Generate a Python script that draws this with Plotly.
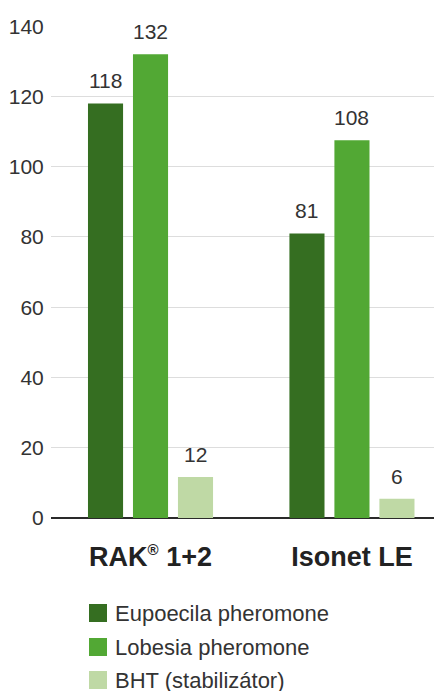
import plotly.graph_objects as go

categories = ["RAK<sup><span style='font-size:15px'>®</span></sup> 1+2", "Isonet LE"]
series_names = ["Eupoecila pheromone", "Lobesia pheromone", "BHT (stabilizátor)"]
eupoecila = [118, 81]
lobesia = [132, 107.5]
bht = [11.7, 5.5]
series_values = [eupoecila, lobesia, bht]
colors = ["#356e21", "#52a834", "#bfd9a5"]
y_ticks = [0, 20, 40, 60, 80, 100, 120, 140]

FONT = "Liberation Sans, Arial, sans-serif"
TXT = "#333333"

# page body has an 8px margin
W, H = 434, 683
ML, MT, MB = 43, 18, 173
plot_h = H - MT - MB
plot_w = W - ML
x0_abs, y0_abs = 8 + ML, 8 + MT + plot_h  # absolute pixel of plot left / y=0

fig = go.Figure()
for name, vals, col in zip(series_names, series_values, colors):
    fig.add_trace(go.Bar(
        x=list(range(len(categories))), y=vals, name=name,
        marker=dict(color=col, line=dict(width=0)),
        showlegend=False, hoverinfo="skip",
    ))

bargap = 0.33
slot = (1 - bargap) / len(series_names)
annotations = []
for s, vals in enumerate(series_values):
    off = (s - (len(series_names) - 1) / 2) * slot
    for i, v in enumerate(vals):
        annotations.append(dict(
            x=i + off, y=v, xref="x", yref="y", text=f"{v:.0f}",
            showarrow=False, yanchor="bottom", yshift=9,
            font=dict(family=FONT, size=21, color=TXT),
        ))

# legend drawn below the plot
shapes = []
row_px = [613, 647, 680]
for name, col, py in zip(series_names, colors, row_px):
    yc = -(py - y0_abs) / plot_h
    h = 9 / plot_h
    shapes.append(dict(type="rect", xref="paper", yref="paper",
                       x0=(89 - x0_abs) / plot_w, x1=(107 - x0_abs) / plot_w,
                       y0=yc - h, y1=yc + h, fillcolor=col, line=dict(width=0)))
    annotations.append(dict(x=(114 - x0_abs) / plot_w, y=yc, xref="paper", yref="paper",
                            text=name, showarrow=False, xanchor="left", yanchor="middle",
                            borderpad=0,
                            font=dict(family=FONT, size=22, color=TXT)))

fig.update_layout(
    width=W, height=H,
    margin=dict(l=ML, r=0, t=MT, b=MB),
    paper_bgcolor="white", plot_bgcolor="white",
    barmode="group", bargap=bargap, bargroupgap=0.22,
    showlegend=False,
    font=dict(family=FONT, size=21, color=TXT),
    xaxis=dict(
        range=[-0.494, 1.447], tickmode="array",
        tickvals=list(range(len(categories))), ticktext=[f"<b>{c}</b>" for c in categories],
        tickfont=dict(family=FONT, size=27, color="#222222"),
        showgrid=False, zeroline=False, showline=False,
        ticks="outside", ticklen=15, tickcolor="rgba(0,0,0,0)",
    ),
    yaxis=dict(
        range=[0, 140.05], tickmode="array", tickvals=y_ticks,
        showgrid=True, gridcolor="#dddddd", gridwidth=1,
        zeroline=True, zerolinecolor="#2a2a2a", zerolinewidth=1.5,
        showline=False,
        ticks="outside", ticklen=2, tickcolor="rgba(0,0,0,0)",
        tickfont=dict(family=FONT, size=21, color=TXT),
    ),
    annotations=annotations, shapes=shapes,
)

fig.write_html("out.html")
